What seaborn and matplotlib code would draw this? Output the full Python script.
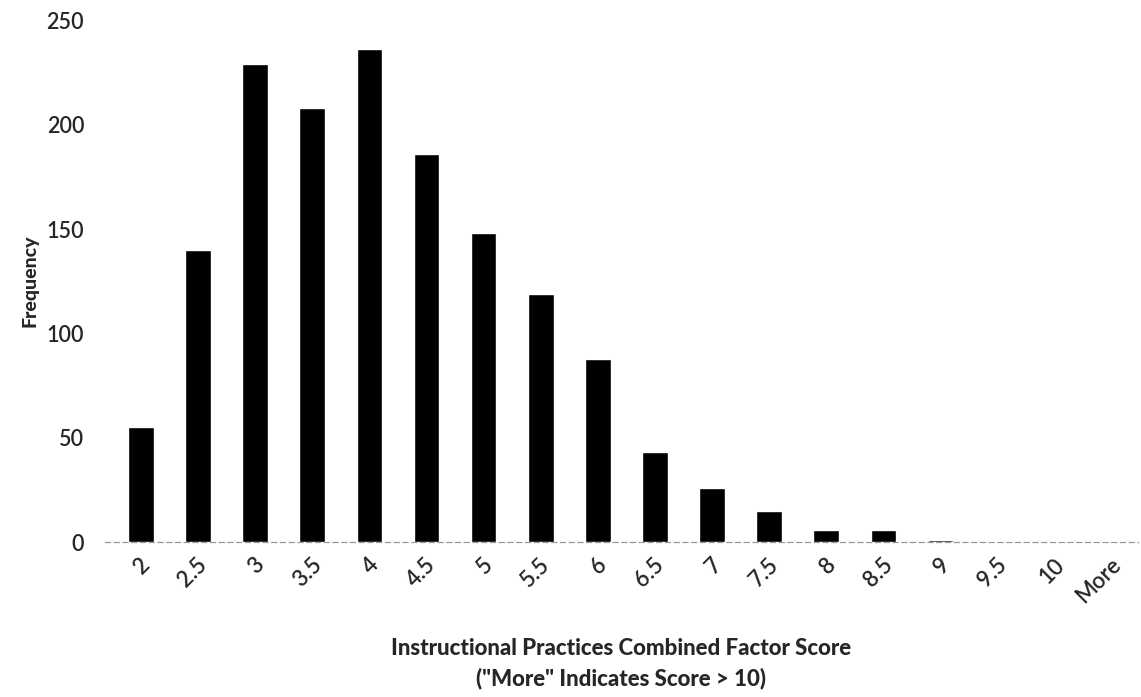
import numpy as np
import pandas as pd
import matplotlib
matplotlib.use('Agg')
import matplotlib.pyplot as plt
import matplotlib.transforms as mtrans
import seaborn as sns

# bins of the combined factor score and their counts
scores=['2','2.5','3','3.5','4','4.5','5','5.5','6','6.5','7','7.5','8','8.5','9','9.5','10','More']
freq=[55,140,229,208,236,186,148,119,88,43,26,15,6,6,1,0,0,0]
yticks=[0,50,100,150,200,250]

sns.set_style('white')
plt.rcParams['font.family']=['Lato','DejaVu Sans']

data=pd.DataFrame({'Score':scores,'Frequency':freq})

fig=plt.figure(figsize=(11.41,6.97),dpi=100)
ax=fig.add_axes([0.092,0.222,0.905,0.749])
sns.barplot(data=data,x='Score',y='Frequency',color='black',width=0.45,ax=ax,zorder=3)

ax.set_ylim(0,250)
ax.set_xlim(-0.63,17.45)
ax.set_yticks(yticks)
ax.tick_params(axis='y',length=3,width=0.8,color='#999999',pad=12,labelsize=15.5)
ax.tick_params(axis='x',length=0,pad=14,labelsize=16)
for lab in ax.get_yticklabels():
    lab.set_fontweight('semibold')
for lab in ax.get_xticklabels():
    lab.set_fontweight('semibold')
    lab.set_rotation(45)
    lab.set_ha('right')
    lab.set_va('center')
    lab.set_rotation_mode('anchor')
    lab.set_transform(lab.get_transform()+mtrans.ScaledTranslation(6/100,0,fig.dpi_scale_trans))

for s in ['top','right','left']:
    ax.spines[s].set_visible(False)
ax.spines['bottom'].set_color('#999999')
ax.spines['bottom'].set_linestyle((0,(4,3)))
ax.spines['bottom'].set_linewidth(0.9)

ax.set_ylabel('Frequency',fontsize=14,fontweight='black',labelpad=6)
ax.set_xlabel('Instructional Practices Combined Factor Score\n("More" Indicates Score > 10)',
              fontsize=16,fontweight='black',labelpad=22,linespacing=1.5)

fig.savefig('out.png',dpi=100)
